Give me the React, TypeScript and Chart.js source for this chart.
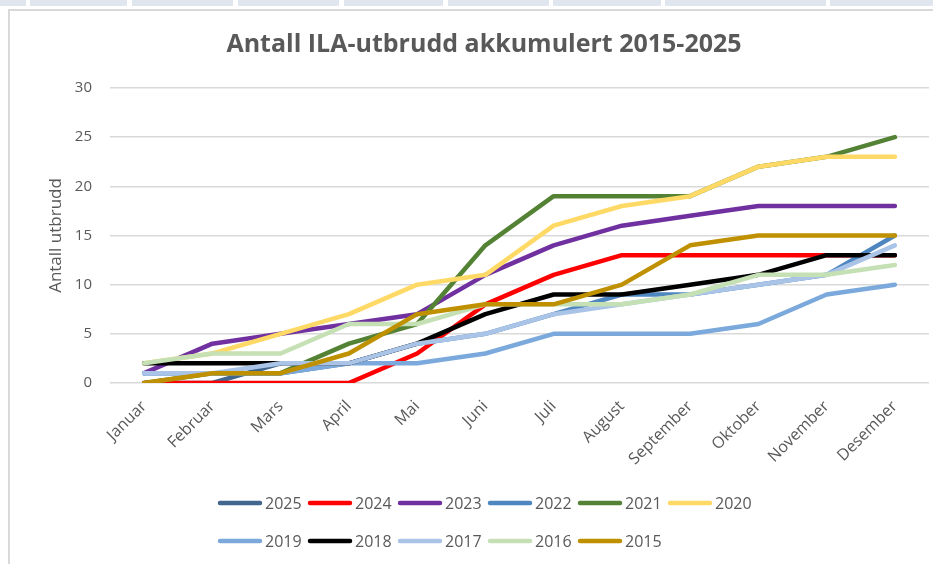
import React, { useEffect, useRef } from "react";
import { Chart, registerables } from "chart.js";

Chart.register(...registerables);

const months = ["Januar", "Februar", "Mars", "April", "Mai", "Juni", "Juli", "August", "September", "Oktober", "November", "Desember"];
const years = ["2025", "2024", "2023", "2022", "2021", "2020", "2019", "2018", "2017", "2016", "2015"];
const yTicks = [0, 5, 10, 15, 20, 25, 30];

const v2025 = [0, 0, 2];
const v2024 = [0, 0, 0, 0, 3, 8, 11, 13, 13, 13, 13, 13];
const v2023 = [1, 4, 5, 6, 7, 11, 14, 16, 17, 18, 18, 18];
const v2022 = [1, 1, 1, 2, 4, 5, 7, 9, 9, 10, 11, 15];
const v2021 = [0, 1, 1, 4, 6, 14, 19, 19, 19, 22, 23, 25];
const v2020 = [2, 3, 5, 7, 10, 11, 16, 18, 19, 22, 23, 23];
const v2019 = [1, 1, 1, 2, 2, 3, 5, 5, 5, 6, 9, 10];
const v2018 = [2, 2, 2, 2, 4, 7, 9, 9, 10, 11, 13, 13];
const v2017 = [1, 1, 2, 2, 4, 5, 7, 8, 9, 10, 11, 14];
const v2016 = [2, 3, 3, 6, 6, 8, 8, 8, 9, 11, 11, 12];
const v2015 = [0, 1, 1, 3, 7, 8, 8, 10, 14, 15, 15, 15];

const series = [v2025, v2024, v2023, v2022, v2021, v2020, v2019, v2018, v2017, v2016, v2015];
const colors = ["#41678F", "#FF0000", "#7030A0", "#4E86C0", "#548235", "#FFD966", "#7BA9DB", "#000000", "#AAC4E8", "#C5E0B4", "#BF9000"];

const TITLE = "Antall ILA-utbrudd akkumulert 2015-2025";
const Y_TITLE = "Antall utbrudd";
const TEXT = "#595959";
const FONT = '"Open Sans", sans-serif';

const stripCells: [number, number][] = [[0, 26], [30, 127], [132, 233], [238, 339], [344, 443], [448, 549], [553, 661], [665, 826], [830, 940]];

export default function App() {
  const ref = useRef<HTMLCanvasElement>(null);
  useEffect(() => {
    document.body.style.margin = "0";
    document.body.style.overflow = "hidden";
    const canvas = ref.current!;
    const deco = {
      id: "deco",
      afterDraw(chart: any) {
        const ctx = chart.ctx as CanvasRenderingContext2D;
        ctx.save();
        ctx.fillStyle = TEXT;
        ctx.font = `bold 25px ${FONT}`;
        ctx.textAlign = "center";
        ctx.textBaseline = "middle";
        ctx.fillText(TITLE, 484, 45);
        ctx.font = `16px ${FONT}`;
        ctx.textAlign = "left";
        chart.data.datasets.forEach((ds: any, i: number) => {
          const row = Math.floor(i / 6);
          const col = i % 6;
          const x = 218 + col * 90;
          const y = 503 + row * 38;
          ctx.strokeStyle = ds.borderColor;
          ctx.lineWidth = 4.5;
          ctx.lineCap = "round";
          ctx.beginPath();
          ctx.moveTo(x + 2, y);
          ctx.lineTo(x + 42, y);
          ctx.stroke();
          ctx.fillText(ds.label, x + 47, y + 1);
        });
        ctx.restore();
      },
    };
    const chart = new Chart(canvas, {
      type: "line",
      data: {
        labels: months,
        datasets: years.map((y, i) => ({
          label: y,
          data: series[i],
          borderColor: colors[i],
          backgroundColor: colors[i],
          borderWidth: 4.5,
          pointRadius: 0,
          pointHoverRadius: 0,
          borderCapStyle: "round" as const,
          borderJoinStyle: "round" as const,
          tension: 0,
          fill: false,
          order: years.length - 1 - i,
        })),
      },
      options: {
        animation: false,
        responsive: false,
        devicePixelRatio: 1,
        layout: { padding: { left: 20, top: 88, right: 4, bottom: 0 } },
        plugins: {
          legend: { display: false },
          title: { display: false },
          tooltip: { enabled: false },
        },
        scales: {
          x: {
            offset: true,
            grid: { display: false },
            border: { display: false },
            ticks: {
              color: TEXT,
              font: { family: FONT, size: 16 },
              maxRotation: 45,
              minRotation: 45,
              autoSkip: false,
              padding: 6,
            },
            afterFit(scale: any) {
              scale.height = 181;
            },
          },
          y: {
            min: 0,
            max: 30,
            afterBuildTicks(scale: any) {
              scale.ticks = yTicks.map((v) => ({ value: v }));
            },
            grid: { color: "#D9D9D9", lineWidth: 1.5, drawTicks: false },
            border: { display: false },
            ticks: {
              color: TEXT,
              font: { family: FONT, size: 15 },
              padding: 18,
            },
            title: {
              display: true,
              text: Y_TITLE,
              color: TEXT,
              font: { family: FONT, size: 17 },
              padding: { top: 26, bottom: 0 },
            },
            afterFit(scale: any) {
              scale.width = 90;
            },
          },
        },
      },
      plugins: [deco],
    });
    return () => chart.destroy();
  }, []);

  return (
    <div style={{ position: "absolute", left: 0, top: 0, width: 933, height: 564, overflow: "hidden", background: "#fff" }}>
      {stripCells.map(([a, b], i) => (
        <div key={i} style={{ position: "absolute", left: a, top: 0, width: b - a, height: 6, background: "#DFE6EE" }} />
      ))}
      <div style={{ position: "absolute", left: 8, top: 9, width: 960, height: 600, border: "2px solid #D9D9D9", boxSizing: "border-box" }} />
      <canvas ref={ref} width={933} height={564} style={{ position: "absolute", left: 0, top: 0, width: 933, height: 564 }} />
    </div>
  );
}
